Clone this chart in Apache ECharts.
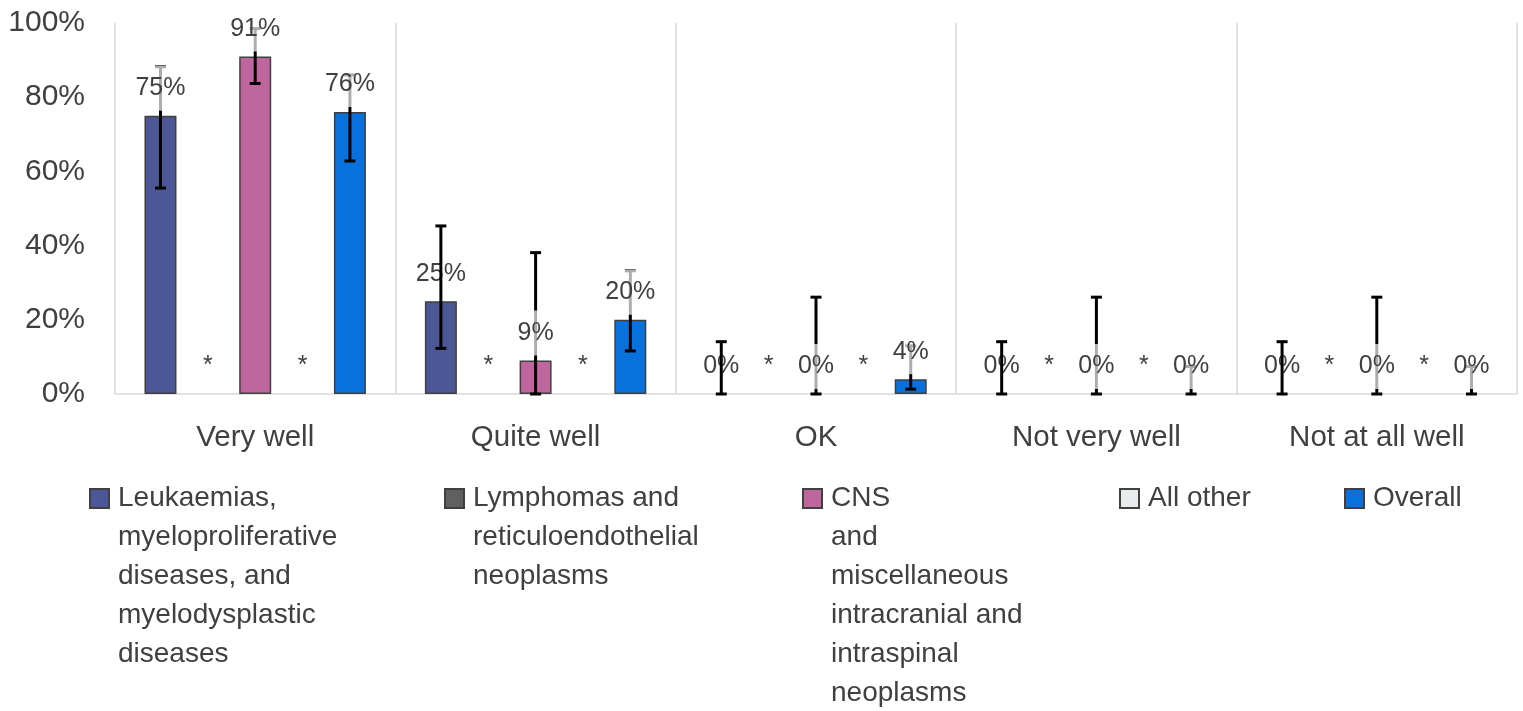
<!DOCTYPE html>
<html>
<head>
<meta charset="utf-8">
<style>
  html, body { margin: 0; padding: 0; background: #fff; }
  #chart { width: 1523px; height: 711px; }
</style>
<script src="https://cdn.jsdelivr.net/npm/echarts@6/dist/echarts.min.js"></script>
</head>
<body>
<div id="chart"></div>
<script>
// ---------------- data ----------------
const categories = ['Very well', 'Quite well', 'OK', 'Not very well', 'Not at all well'];
const yTicks = [0, 20, 40, 60, 80, 100];

const seriesNames = [
  'Leukaemias,\nmyeloproliferative\ndiseases, and\nmyelodysplastic\ndiseases',
  'Lymphomas and\nreticuloendothelial\nneoplasms',
  'CNS\nand\nmiscellaneous\nintracranial and\nintraspinal\nneoplasms',
  'All other',
  'Overall'
];

const leukValues    = [75, 25, 0, 0, 0];
const lymphValues   = [0, 0, 0, 0, 0];   // suppressed, shown as *
const cnsValues     = [91, 9, 0, 0, 0];
const otherValues   = [0, 0, 0, 0, 0];   // suppressed, shown as *
const overallValues = [76, 20, 4, 0, 0];

const leukLow     = [55.5, 12.3, 0, 0, 0];
const leukHigh    = [88.2, 45.3, 14.1, 14.1, 14.1];
const cnsLow      = [83.7, 0, 0, 0, 0];
const cnsHigh     = [98.5, 38.1, 26.1, 26.1, 26.1];
const overallLow  = [62.8, 11.6, 1.3, 0, 0];
const overallHigh = [86, 33.2, 13, 7.4, 7.4];

const suppressed = [false, true, false, true, false];

// ---------------- styles ----------------
const colors = ['#4b5797', '#606060', '#c0669e', '#e8eced', '#0871dd'];
const BAR_W = 32;
const BAR_GAP = '48%';
const FONT = '"Liberation Sans", Arial, sans-serif';
const TEXT = '#404040';
const LEGEND_LEFT = [89, 444, 802, 1119, 1344];
const LEGEND_LINE = 39;
const LEGEND_ICON = 19;
const LEGEND_ICON_TOP = 488;

const valueSets = [leukValues, lymphValues, cnsValues, otherValues, overallValues];

const barSeries = valueSets.map((vals, i) => ({
  type: 'bar',
  name: seriesNames[i],
  barWidth: BAR_W,
  barGap: BAR_GAP,
  itemStyle: { color: colors[i], borderColor: '#404040', borderWidth: 1.5 },
  data: vals.map(v => (v === 0 ? { value: v, itemStyle: { borderWidth: 0 } } : v)),
  label: {
    show: true,
    position: 'top',
    distance: 5,
    formatter: suppressed[i] ? '*' : (p => Math.round(p.value) + '%'),
    color: TEXT,
    fontFamily: FONT,
    fontSize: 25,
    lineHeight: 25,
    padding: [10, 4, 10, 4],
    backgroundColor: suppressed[i] ? 'transparent' : 'rgba(255,255,255,0.68)'
  },
  emphasis: { disabled: true },
  z: 2
}));

function errorSeries(slot, low, high, aboveLabelFrom) {
  return {
    type: 'custom',
    name: 'err' + slot,
    z: 2,
    silent: true,
    encode: { x: 0, y: [1, 2] },
    data: low.map((l, k) => [k, l, high[k]]),
    renderItem: function (params, api) {
      const cat = api.value(0);
      const lay = api.barLayout({ barWidth: BAR_W, barGap: BAR_GAP, count: 5 });
      const off = lay[slot].offsetCenter;
      const pLo = api.coord([cat, api.value(1)]);
      const pHi = api.coord([cat, api.value(2)]);
      const x = pLo[0] + off;
      const z2 = (aboveLabelFrom !== null && cat >= aboveLabelFrom) ? 3 : 1;
      const st = { stroke: '#000', lineWidth: 3 };
      const hw = 5.5;
      return {
        type: 'group',
        children: [
          { type: 'line', z2: z2, shape: { x1: x, y1: pLo[1], x2: x, y2: pHi[1] }, style: st },
          { type: 'line', z2: z2, shape: { x1: x - hw, y1: pHi[1], x2: x + hw, y2: pHi[1] }, style: st },
          { type: 'line', z2: z2, shape: { x1: x - hw, y1: pLo[1], x2: x + hw, y2: pLo[1] }, style: st }
        ]
      };
    }
  };
}

// Legend: the icon box is as tall as the wrapped text block; the visible
// square sits on the first text line.
const legends = seriesNames.map((name, i) => {
  const n = name.split('\n').length;
  const h = n * LEGEND_LINE;
  const sqTop = (LEGEND_LINE - LEGEND_ICON) / 2;
  const iconPath = 'path://M0,0M0,' + sqTop + 'h' + LEGEND_ICON + 'v' + LEGEND_ICON +
                   'h-' + LEGEND_ICON + 'zM' + LEGEND_ICON + ',' + h;
  return {
    data: [{ name: name, icon: iconPath }],
    left: LEGEND_LEFT[i],
    top: LEGEND_ICON_TOP - sqTop,
    orient: 'horizontal',
    padding: 0,
    itemWidth: LEGEND_ICON,
    itemHeight: h,
    selectedMode: false,
    textStyle: {
      color: TEXT,
      fontFamily: FONT,
      fontSize: 28,
      lineHeight: LEGEND_LINE,
      padding: [0, 0, 0, 4]
    }
  };
});

const option = {
  animation: false,
  backgroundColor: '#fff',
  grid: { left: 115, right: 6, top: 23, bottom: 317, containLabel: false },
  legend: legends,
  xAxis: {
    type: 'category',
    data: categories,
    axisLine: { show: true, lineStyle: { color: '#d9d9d9', width: 1.5 } },
    axisTick: { show: false },
    splitLine: { show: true, lineStyle: { color: '#d9d9d9', width: 1.5 } },
    axisLabel: { color: TEXT, fontFamily: FONT, fontSize: 29.5, lineHeight: 30, margin: 29 }
  },
  yAxis: {
    type: 'value',
    min: yTicks[0],
    max: yTicks[yTicks.length - 1],
    interval: yTicks[1] - yTicks[0],
    axisLine: { show: false },
    axisTick: { show: false },
    splitLine: { show: false },
    axisLabel: { color: TEXT, fontFamily: FONT, fontSize: 30, margin: 30, formatter: '{value}%' }
  },
  series: barSeries.concat([
    errorSeries(0, leukLow, leukHigh, 1),
    errorSeries(2, cnsLow, cnsHigh, null),
    errorSeries(4, overallLow, overallHigh, null)
  ])
};

const chart = echarts.init(document.getElementById('chart'), null, { renderer: 'canvas' });
chart.setOption(option);
</script>
</body>
</html>
